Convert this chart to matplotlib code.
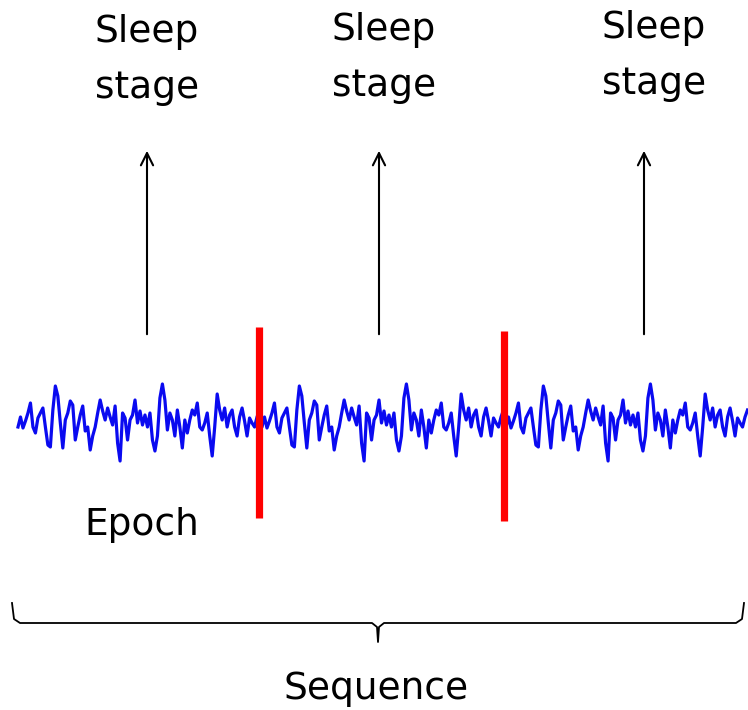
import numpy as np
import matplotlib
matplotlib.use("Agg")
import matplotlib.pyplot as plt

# one epoch of the EEG trace (amplitude in px); the same epoch repeats
epoch_signal = [-4, 6, -5, 2, 10, 20, -4, -10, 5, 10, 15, -4, -22, -24, 13, 37, 27, 0, -25, 3,
                10, 22, 18, -17, -4, 8, 17, -8, -4, -27, -13, -4, 10, 23, 12, 3, 15, 6, -2, 17,
                -20, -38, 10, 5, -17, 3, 8, 23, 0, 12, -2, 8, -4, 10, -17, -28, -13, 25, 39, 23,
                -7, 10, 3, -13, 13, -4, -25, 3, -10, 3, 13, 8, 20, -4, -7, 0, 10, -13, -33, -4,
                29, 13, 3, 15, -4, 8, 13, -4, -13, 6, 15, 2, -13, 5, 0, -4, 6, 13]
n_epochs = 3
stage_labels = ["Sleep\nstage", "Sleep\nstage", "Sleep\nstage"]
epoch_label = "Epoch"
sequence_label = "Sequence"

# layout in pixel coordinates
x0, period, base = 18, 244, 423
arrow_x = [147, 379, 644]
text_x = [147, 384, 654]
text_y = [60, 58, 56]
red_x = [259, 504]
red_y = [(327, 518), (331, 521)]

fig = plt.figure(figsize=(7.48, 7.10), dpi=100)
ax = fig.add_axes([0, 0, 1, 1])
ax.set_xlim(0, 748)
ax.set_ylim(710, 0)
ax.axis("off")

sig = np.array(epoch_signal, dtype=float)
n = len(sig)
xs, ys = [], []
for k in range(n_epochs):
    xs.append(x0 + k * period + np.arange(n) * period / n)
    ys.append(base - sig)
xs = np.concatenate(xs)
ys = np.concatenate(ys)
ax.plot(xs, ys, color="#0a0af0", lw=2.3, zorder=2)

for (xr, (ya, yb)) in zip(red_x, red_y):
    ax.plot([xr, xr], [ya, yb], color="#ff0000", lw=5.2, solid_capstyle="butt", zorder=3)

for xa in arrow_x:
    ax.annotate("", xy=(xa, 148), xytext=(xa, 337),
                arrowprops=dict(arrowstyle="->", color="black", lw=1.5, mutation_scale=22))

font = ["DejaVu Sans"]
for tx, ty, lab in zip(text_x, text_y, stage_labels):
    ax.text(tx, ty, lab, ha="center", va="center", fontsize=27, family=font,
            linespacing=1.75)

ax.text(142, 525, epoch_label, ha="center", va="center", fontsize=27, family=font)
ax.text(376, 689, sequence_label, ha="center", va="center", fontsize=27, family=font)

# curly brace under the sequence
bx = [12, 14, 20, 372, 377, 378, 379, 384, 736, 742, 744]
by = [603, 619, 623, 623, 627, 642, 627, 623, 623, 619, 603]
ax.plot(bx, by, color="black", lw=1.3)

fig.savefig("out.png", dpi=100, facecolor="white")
